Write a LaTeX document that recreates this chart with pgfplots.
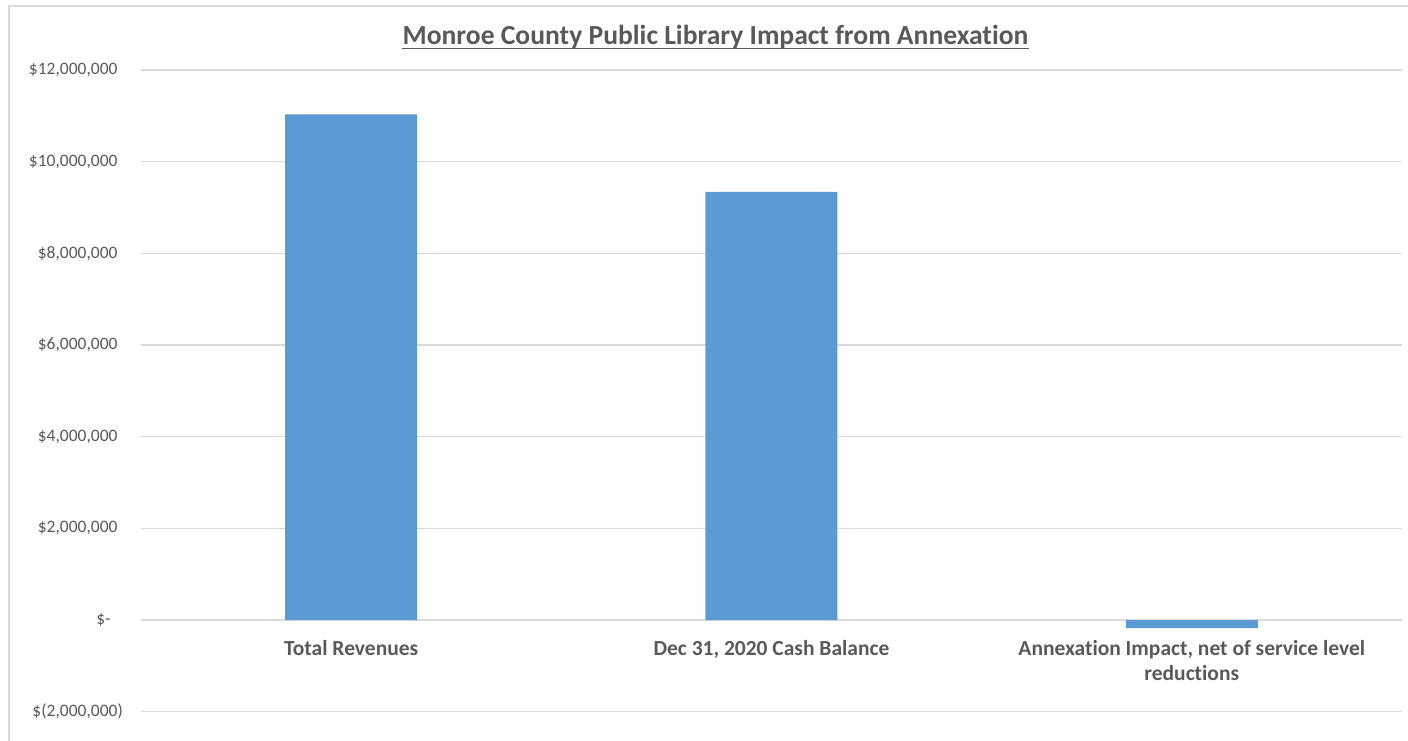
\documentclass[border=0pt]{standalone}
\usepackage{pgfplots}
\pgfplotsset{compat=1.18}
\usepackage{fontspec}
\setmainfont{Carlito}[Ligatures=NoCommon]

\definecolor{barblue}{HTML}{5B9BD5}
\definecolor{txtgray}{HTML}{595959}
\definecolor{gridgray}{HTML}{D9D9D9}

\begin{document}
\begin{tikzpicture}
\useasboundingbox (0,0) rectangle (1408pt,741pt);
% chart frame (only top and left edges show in the crop)
\draw[gridgray, line width=1.5pt] (9pt,0) -- (9pt,735pt) -- (1408pt,735pt);

\begin{axis}[
    at={(141pt,29.3pt)}, anchor=south west,
    scale only axis,
    width=1261pt, height=641.7pt,
    xmin=-0.5, xmax=2.5,
    ymin=-2000000, ymax=12000000,
    scaled y ticks=false,
    axis x line*=middle,
    axis y line*=left,
    x axis line style={draw=gridgray, line width=1.3pt},
    y axis line style={draw=none},
    major tick length=0pt,
    ymajorgrids=true,
    grid style={gridgray, line width=1.3pt},
    xtick={0,1,2},
    xticklabels={Total Revenues,{Dec 31, 2020 Cash Balance},{Annexation Impact, net of service level\\reductions}},
    xticklabel style={font=\bfseries\fontsize{21.5}{25}\selectfont, text=txtgray,
        anchor=north, align=center, inner sep=0pt, yshift=-20pt},
    ytick={-2000000,0,2000000,4000000,6000000,8000000,10000000,12000000},
    yticklabels={{\$(2,000,000)},{\$-\hspace{7pt}\hphantom{)}},{\$2,000,000\hphantom{)}},{\$4,000,000\hphantom{)}},{\$6,000,000\hphantom{)}},{\$8,000,000\hphantom{)}},{\$10,000,000\hphantom{)}},{\$12,000,000\hphantom{)}}},
    yticklabel style={font=\fontsize{17.5}{20}\selectfont, text=txtgray,
        anchor=east, inner sep=0pt, xshift=-18pt},
    ybar, bar width=132pt,
    clip=false,
]
\addplot[fill=barblue, draw=none] coordinates {(0,11030000) (1,9340000) (2,-175000)};
\end{axis}

\node[anchor=base, inner sep=0pt, text=txtgray, font=\bfseries\fontsize{27.6}{32}\selectfont] (t) at (715.5pt,696pt) {Monroe County Public Library Impact from Annexation};
\draw[txtgray, line width=1.5pt] ([yshift=-3.3pt]t.base west) -- ([yshift=-3.3pt]t.base east);
\end{tikzpicture}
\end{document}
